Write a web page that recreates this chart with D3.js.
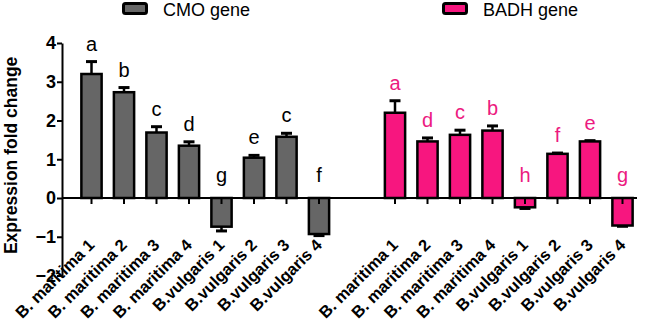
<!DOCTYPE html>
<html>
<head>
<meta charset="utf-8">
<script src="https://cdn.jsdelivr.net/npm/d3@7"></script>
<style>
  body{margin:0;background:#fff;}
  svg{display:block;}
</style>
</head>
<body>
<div id="chart"></div>
<script>
let w=650;
let h=321;

// data
let cmoLabels=["B. maritima 1","B. maritima 2","B. maritima 3","B. maritima 4","B.vulgaris 1","B.vulgaris 2","B.vulgaris 3","B.vulgaris 4"];
let badhLabels=["B. maritima 1","B. maritima 2","B. maritima 3","B. maritima 4","B.vulgaris 1","B.vulgaris 2","B.vulgaris 3","B.vulgaris 4"];
let cmoValues=[3.2,2.73,1.69,1.35,-0.74,1.04,1.58,-0.93];
let cmoErrors=[0.32,0.12,0.15,0.1,0.11,0.06,0.09,0.04];
let cmoLetters=["a","b","c","d","g","e","c","f"];
let badhValues=[2.2,1.46,1.63,1.74,-0.24,1.14,1.46,-0.71];
let badhErrors=[0.31,0.09,0.12,0.12,0.03,0.02,0.02,0.02];
let badhLetters=["a","d","c","b","h","f","e","g"];
let yTicks=[-2,-1,0,1,2,3,4];

let font="'Liberation Sans', Arial, sans-serif";
let grey="#666666";
let pink="#f7167f";
let pinkText="#ec1a7f";

let svg=d3.select("#chart").append("svg")
  .attr("width",w)
  .attr("height",h);

let yScale=d3.scaleLinear().domain([-2,4]).range([275.5,43]);
let xCmo=d3.scaleBand().domain(d3.range(cmoLabels.length)).range([75.25,335.25]).paddingInner(0.3).paddingOuter(0.15);
let xBadh=d3.scaleBand().domain(d3.range(badhLabels.length)).range([378.75,638.75]).paddingInner(0.3).paddingOuter(0.15);

let axisX=62;

// y axis
let yAxis=d3.axisLeft(yScale).tickValues(yTicks).tickSize(5).tickSizeOuter(0).tickFormat(d3.format("d"));
let yAxisGroup=svg.append("g")
  .attr("transform","translate("+axisX+",0)")
  .call(yAxis);
yAxisGroup.select(".domain").attr("stroke","#000").attr("stroke-width",2);
yAxisGroup.selectAll(".tick line").attr("stroke","#000").attr("stroke-width",2);
yAxisGroup.selectAll(".tick text")
  .attr("x",-6)
  .style("font-family",font)
  .style("font-size","18px")
  .style("font-weight","bold")
  .attr("fill","#000");

// y title
svg.append("text")
  .text("Expression fold change")
  .attr("transform","translate(17,"+yScale(1.1)+") rotate(-90)")
  .attr("text-anchor","middle")
  .style("font-family",font)
  .style("font-size","17.5px")
  .style("font-weight","bold")
  .attr("fill","#000");

function drawGroup(xs,labels,values,errors,letters,fill,letterColor){
  let g=svg.append("g");
  let bw=xs.bandwidth();
  let data=values.map(function(v,i){
    return {i:i,label:labels[i],value:v,err:errors[i],letter:letters[i]};
  });

  // error bars
  g.selectAll(".err").data(data).enter()
    .append("line")
    .attr("x1",function(d){return xs(d.i)+bw/2;})
    .attr("x2",function(d){return xs(d.i)+bw/2;})
    .attr("y1",function(d){return yScale(d.value);})
    .attr("y2",function(d){return yScale(d.value+(d.value<0?-d.err:d.err));})
    .attr("stroke","#000")
    .attr("stroke-width",2.5);
  g.selectAll(".cap").data(data).enter()
    .append("line")
    .attr("x1",function(d){return xs(d.i)+bw/2-5.5;})
    .attr("x2",function(d){return xs(d.i)+bw/2+5.5;})
    .attr("y1",function(d){return yScale(d.value+(d.value<0?-d.err:d.err));})
    .attr("y2",function(d){return yScale(d.value+(d.value<0?-d.err:d.err));})
    .attr("stroke","#000")
    .attr("stroke-width",3);

  // bars
  g.selectAll(".bar").data(data).enter()
    .append("rect")
    .attr("x",function(d){return xs(d.i)+1.25;})
    .attr("width",bw-2.5)
    .attr("y",function(d){return yScale(Math.max(0,d.value));})
    .attr("height",function(d){return Math.abs(yScale(d.value)-yScale(0));})
    .attr("fill",fill)
    .attr("stroke","#000")
    .attr("stroke-width",2.5);

  // x ticks
  g.selectAll(".xtick").data(data).enter()
    .append("line")
    .attr("x1",function(d){return xs(d.i)+bw/2;})
    .attr("x2",function(d){return xs(d.i)+bw/2;})
    .attr("y1",yScale(0))
    .attr("y2",yScale(0)+6)
    .attr("stroke","#000")
    .attr("stroke-width",2);

  // letters
  g.selectAll(".letter").data(data).enter()
    .append("text")
    .text(function(d){return d.letter;})
    .attr("x",function(d){return xs(d.i)+bw/2;})
    .attr("y",function(d){
      if(d.value<0){return yScale(0)-16;}
      return yScale(d.value+d.err)-11;
    })
    .attr("text-anchor","middle")
    .style("font-family",font)
    .style("font-size","20px")
    .attr("fill",letterColor);

  // x labels
  g.selectAll(".xlabel").data(data).enter()
    .append("text")
    .text(function(d){return d.label;})
    .attr("transform",function(d){
      return "translate("+(xs(d.i)+bw/2+4)+",246) rotate(-45)";
    })
    .attr("text-anchor","end")
    .style("font-family",font)
    .style("font-size","16.5px")
    .style("font-weight","bold")
    .attr("fill","#000");
}

// zero line
svg.append("line")
  .attr("x1",axisX)
  .attr("x2",637)
  .attr("y1",yScale(0))
  .attr("y2",yScale(0))
  .attr("stroke","#000")
  .attr("stroke-width",2);

drawGroup(xCmo,cmoLabels,cmoValues,cmoErrors,cmoLetters,grey,"#000");
drawGroup(xBadh,badhLabels,badhValues,badhErrors,badhLetters,pink,pinkText);

// legend
let legendItems=[{name:"CMO gene",color:grey,x:122},{name:"BADH gene",color:pink,x:442}];
let legend=svg.selectAll(".legend").data(legendItems).enter()
  .append("g")
  .attr("transform",function(d){return "translate("+d.x+",0)";});
legend.append("rect")
  .attr("x",1.5)
  .attr("y",3.5)
  .attr("width",23)
  .attr("height",10)
  .attr("rx",2)
  .attr("fill",function(d){return d.color;})
  .attr("stroke","#000")
  .attr("stroke-width",3);
legend.append("text")
  .text(function(d){return d.name;})
  .attr("x",41)
  .attr("y",15.5)
  .style("font-family",font)
  .style("font-size","18px")
  .attr("fill","#000");
</script>
</body>
</html>
